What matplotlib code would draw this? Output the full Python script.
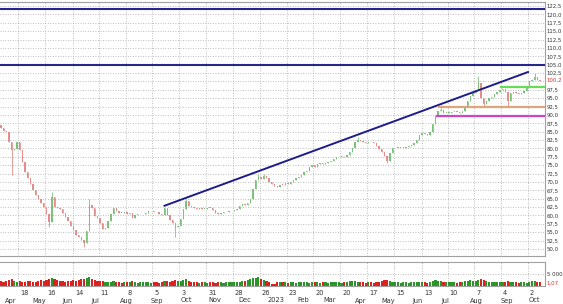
import matplotlib.pyplot as plt
import numpy as np
import pandas as pd
from matplotlib.transforms import blended_transform_factory

plt.rcParams['font.family'] = ['DejaVu Sans']

# closes, one candle per two trading days starting 2022-03-30
closes = [
    86, 85.3, 85, 82, 79.5, 79.8, 82, 79.5, 76, 73,
    71.2, 69.5, 67.6, 66, 64.9, 63.6, 62.5, 60.5, 58.2, 65.5,
    62.6, 62.1, 61.8, 60.6, 59.6, 58.4, 57, 55.7, 54.1, 53.6,
    52.7, 51.8, 55.5, 63, 62.3, 59.8, 59.2, 57.7, 56, 56.2,
    58.5, 60.3, 62.2, 61.4, 60.8, 60.7, 60.9, 60.3, 60.8, 59.2,
    60, 60.3, 60.3, 60.5, 60.8, 61.2, 61.4, 61.1, 60.9, 60.4,
    60.1, 62.3, 60.2, 58.7, 57.7, 56.5, 56.8, 59, 61.9, 64.4,
    62.8, 62.5, 62.2, 61.8, 62.1, 61.9, 61.9, 62.3, 62.1, 61.6,
    60.8, 60.4, 60.7, 60.9, 60.9, 61.2, 61.2, 61.5, 62, 62.8,
    63.3, 63, 63.7, 65, 67.8, 70.5, 71.4, 70.8, 71.8, 71.2,
    70, 69.5, 68.8, 68.5, 69.1, 69, 69.8, 69.5, 70, 70.6,
    71.1, 71.5, 72.2, 72.9, 73.4, 74.4, 75.2, 74.6, 75.4, 75.7,
    75.4, 75.6, 76.1, 76.3, 76.8, 77.3, 77.3, 77.6, 77.4, 78,
    79, 80.1, 81.8, 82.5, 82.2, 82, 81.7, 82, 81.8, 81.5,
    80.8, 79.8, 78.9, 77.8, 76.3, 78.5, 80, 80.2, 80.2, 80.2,
    80.2, 80.5, 80.8, 81, 81.5, 82.5, 84, 84.6, 84.3, 84.1,
    84.8, 87.3, 89.8, 91.1, 91.6, 90.7, 90.7, 90.7, 91, 91,
    90.9, 90.7, 91.2, 92.5, 94.3, 95.7, 96.5, 97.3, 99.5, 95,
    93.4, 94.2, 95.1, 95.4, 96.1, 96.7, 97.3, 97.8, 96.8, 94.3,
    96.6, 96.9, 96.6, 96.3, 96.5, 97.2, 98.2, 100, 100.3, 101.2,
    100.4, 100.2,
]
first_open = 87

# long wicks visible in the chart (candle number, price)
wick_bar = [4, 18, 19, 31, 33, 65, 69, 96, 98, 133, 144, 164, 178, 180, 189, 199]
wick_val = [72, 56.5, 67, 50.5, 64.8, 53.7, 65, 72.4, 72.3, 83.5, 75.8, 93.1, 101.7, 92.5, 92.5, 102.6]

# volume in hundreds
volume = [
    22, 18, 20, 25, 30, 22, 18, 20, 16, 18, 20, 22, 18, 16, 20, 24, 22, 26, 30, 34,
    28, 24, 22, 20, 18, 22, 20, 24, 22, 26, 28, 30, 34, 38, 28, 24, 20, 22, 20, 18,
    16, 18, 20, 18, 16, 14, 16, 18, 15, 20, 16, 14, 15, 16, 18, 15, 14, 16, 15, 14,
    16, 22, 20, 18, 22, 24, 20, 22, 26, 28, 20, 18, 16, 15, 14, 16, 15, 14, 16, 15,
    14, 15, 16, 14, 15, 16, 18, 16, 15, 18, 20, 22, 24, 30, 34, 32, 36, 30, 26, 22,
    18, 10, 8, 16, 18, 16, 15, 14, 16, 15, 14, 16, 18, 16, 15, 14, 18, 16, 15, 14,
    16, 15, 14, 16, 18, 16, 15, 14, 16, 18, 20, 22, 20, 18, 16, 15, 14, 16, 15, 14,
    16, 18, 20, 24, 26, 20, 18, 16, 15, 14, 16, 15, 14, 16, 18, 16, 18, 16, 15, 14,
    16, 20, 24, 22, 20, 18, 16, 15, 16, 15, 14, 16, 18, 20, 22, 24, 20, 22, 26, 30,
    24, 20, 18, 16, 15, 16, 18, 16, 15, 20, 18, 16, 15, 14, 16, 15, 14, 18, 20, 22,
    18, 16,
]

tick_dates = ["2022-04-18", "2022-05-16", "2022-06-14", "2022-07-11", "2022-08-08",
              "2022-09-05", "2022-10-03", "2022-10-31", "2022-11-28", "2022-12-26",
              "2023-01-23", "2023-02-20", "2023-03-20", "2023-04-17", "2023-05-15",
              "2023-06-13", "2023-07-10", "2023-08-07", "2023-09-04", "2023-10-02"]
month_dates = ["2022-04-01", "2022-05-02", "2022-06-01", "2022-07-01", "2022-08-01",
               "2022-09-01", "2022-10-03", "2022-11-01", "2022-12-01", "2023-01-02",
               "2023-02-01", "2023-03-01", "2023-04-03", "2023-05-01", "2023-06-01",
               "2023-07-03", "2023-08-01", "2023-09-01", "2023-10-02"]
month_names = ["Apr", "May", "Jun", "Jul", "Aug", "Sep", "Oct", "Nov", "Dec", "2023",
               "Feb", "Mar", "Apr", "May", "Jun", "Jul", "Aug", "Sep", "Oct"]

hlines = [121.5, 105.0]
trend_dates = ["2022-09-16", "2023-10-02"]
trend_vals = [62.9, 102.8]
support_dates = ["2023-06-30", "2023-06-28", "2023-09-04"]
support_vals = [92.5, 89.7, 98.4]
support_colors = ["#e0a47a", "#cc44cc", "#66dd55"]
last_price = 100.2

days = pd.bdate_range("2022-03-28", "2023-12-29")


def pos(d):
    return days.get_loc(pd.Timestamp(d))


x = 2 + 2 * np.arange(len(closes))
closes = np.array(closes, dtype=float)
opens = np.concatenate([[first_open], closes[:-1]])
up = closes >= opens
lows = np.minimum(opens, closes)
highs = np.maximum(opens, closes)
for b, v in zip(wick_bar, wick_val):
    lows[b] = min(lows[b], v)
    highs[b] = max(highs[b], v)

fig = plt.figure(figsize=(5.63, 3.04), dpi=100)
W, H = 563, 304
ax = fig.add_axes([0, 1 - 256 / H, 545 / W, 254 / H])
axv = fig.add_axes([0, 1 - 286 / H, 545 / W, 24 / H], sharex=ax)

p0, p1 = pos(tick_dates[0]), pos(tick_dates[-1])
ppd = (528 - 18.3) / (p1 - p0)
xlim = (p0 - 18.3 / ppd, p1 + 17 / ppd)

grid_kw = dict(color="#a8a8a8", lw=0.6, ls=(0, (1, 2)))
tick_x = [pos(d) for d in tick_dates]
fs = 3.9
txt_col = "#333333"

# price panel
for yv in np.arange(50, 123, 2.5):
    ax.axhline(yv, zorder=0, **grid_kw)
for tx in tick_x:
    ax.axvline(tx, zorder=0, **grid_kw)

green, red = "#7cc27c", "#e58c8c"
cols = np.where(up, green, red)
ax.vlines(x, lows, highs, colors=cols, lw=0.6, zorder=2)
body = np.where(np.abs(closes - opens) < 0.2, 0.2, closes - opens)
ax.bar(x, body, bottom=opens, width=1.0, color=cols, lw=0, zorder=3)

for h in hlines:
    ax.axhline(h, color="#26268c", lw=1.5, zorder=4)
ax.plot([pos(d) for d in trend_dates], trend_vals, color="#1c1c8a", lw=1.4, zorder=4)
for d, v, c in zip(support_dates, support_vals, support_colors):
    ax.plot([pos(d), xlim[1]], [v, v], color=c, lw=1.6, zorder=4)

ax.set_xlim(xlim)
ax.set_ylim(50 - 7 / 3.352, 122.5 + 4 / 3.352)
yt = [v for v in np.arange(50, 123, 2.5) if v != 100]
ax.yaxis.tick_right()
ax.set_yticks(yt)
ax.set_yticklabels([f"{v:.1f}".replace(".", ",") for v in yt])
ax.tick_params(axis="y", length=0, pad=1.2, labelsize=fs, labelcolor=txt_col)
ax.tick_params(axis="x", length=0, labelbottom=False)
ax.text(1 + 1.7 / 545, last_price, f"{last_price:.1f}".replace(".", ","), color="#e03030",
        fontsize=fs, va="center", ha="left",
        transform=blended_transform_factory(ax.transAxes, ax.transData))
ax.spines["left"].set_visible(False)
for s in ["top", "bottom", "right"]:
    ax.spines[s].set_color("#a0a0a0")
    ax.spines[s].set_linewidth(0.8)

# volume panel
vcols = np.where(up, "#2a962a", "#dd2020")
axv.axhline(5000, zorder=0, **grid_kw)
for tx in tick_x:
    axv.axvline(tx, zorder=0, **grid_kw)
axv.bar(x, np.array(volume) * 100, width=1.6, color=vcols, lw=0, zorder=2)
axv.set_ylim(0, 10000)
axv.yaxis.tick_right()
axv.set_yticks([5000])
axv.set_yticklabels(["5 000"])
axv.tick_params(axis="y", length=0, pad=1.2, labelsize=fs, labelcolor=txt_col)
axv.tick_params(axis="x", length=0, labelbottom=False)
axv.text(1 + 1.7 / 545, 1250, "1,07", color="#e03030", fontsize=fs, va="center",
         ha="left", transform=blended_transform_factory(axv.transAxes, axv.transData))
axv.spines["left"].set_visible(False)
for s in ["top", "bottom", "right"]:
    axv.spines[s].set_color("#a0a0a0")
    axv.spines[s].set_linewidth(0.8)

# date labels below
tr = blended_transform_factory(axv.transData, fig.transFigure)
for d, tx in zip(tick_dates, tick_x):
    axv.text(tx + 2 / ppd, 1 - 293 / H, str(pd.Timestamp(d).day), transform=tr,
             fontsize=4.8, ha="left", va="center", color=txt_col, clip_on=False)
for d, name in zip(month_dates, month_names):
    axv.text(pos(d) + 1 / ppd, 1 - 300.5 / H, name, transform=tr,
             fontsize=4.8, ha="left", va="center", color=txt_col, clip_on=False)

fig.savefig("out.png", dpi=100)
